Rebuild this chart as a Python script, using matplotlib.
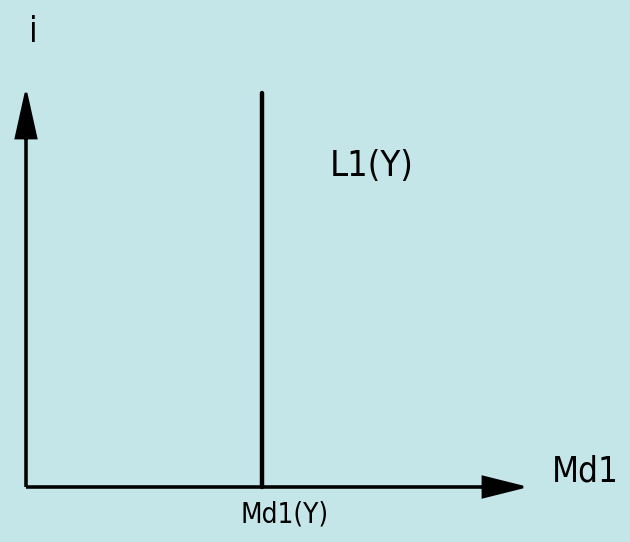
import matplotlib
matplotlib.use("Agg")
from matplotlib import pyplot as plt
from matplotlib.patches import FancyArrow

# diagram values (abstract units)
x_max = 10.0
y_max = 10.0
md1_y = 4.75          # position of the vertical L1(Y) line
axis_label_x = "Md1"
axis_label_y = "i"
curve_label = "L1(Y)"
tick_label = "Md1(Y)"

bg = "#c5e6e9"
font = ["DejaVu Sans"]

fig = plt.figure(figsize=(6.3, 5.42), dpi=100)
fig.patch.set_facecolor(bg)
ax = fig.add_axes([26 / 630, 55 / 542, 497 / 630, 394 / 542])
ax.set_facecolor(bg)
ax.set_xlim(0, x_max)
ax.set_ylim(0, y_max)
ax.axis("off")

# axes with arrow heads
hx = x_max * 40 / 497
hy = y_max * 45 / 394
ax.add_patch(FancyArrow(0, 0, x_max, 0, width=0, head_width=y_max * 20 / 394,
                        head_length=hx, length_includes_head=True,
                        color="black", lw=2, clip_on=False))
ax.add_patch(FancyArrow(0, 0, 0, y_max, width=0, head_width=x_max * 20 / 497,
                        head_length=hy, length_includes_head=True,
                        color="black", lw=2, clip_on=False))

# vertical curve
ax.plot([md1_y, md1_y], [0, y_max], color="black", lw=3.2,
        solid_capstyle="round", clip_on=False)

kw = dict(family=font, fontstretch="condensed")
ax.text(x_max + 0.58, 0.4, axis_label_x, fontsize=25, ha="left", va="center", **kw)
ax.text(0.15, y_max + 1.55, axis_label_y, fontsize=25, ha="center", va="center", **kw)
ax.text(6.95, 8.15, curve_label, fontsize=26, ha="center", va="center", **kw)
ax.text(md1_y + 0.45, -0.7, tick_label, fontsize=20, ha="center", va="center", **kw)

fig.savefig("out.png", dpi=100, facecolor=bg)
